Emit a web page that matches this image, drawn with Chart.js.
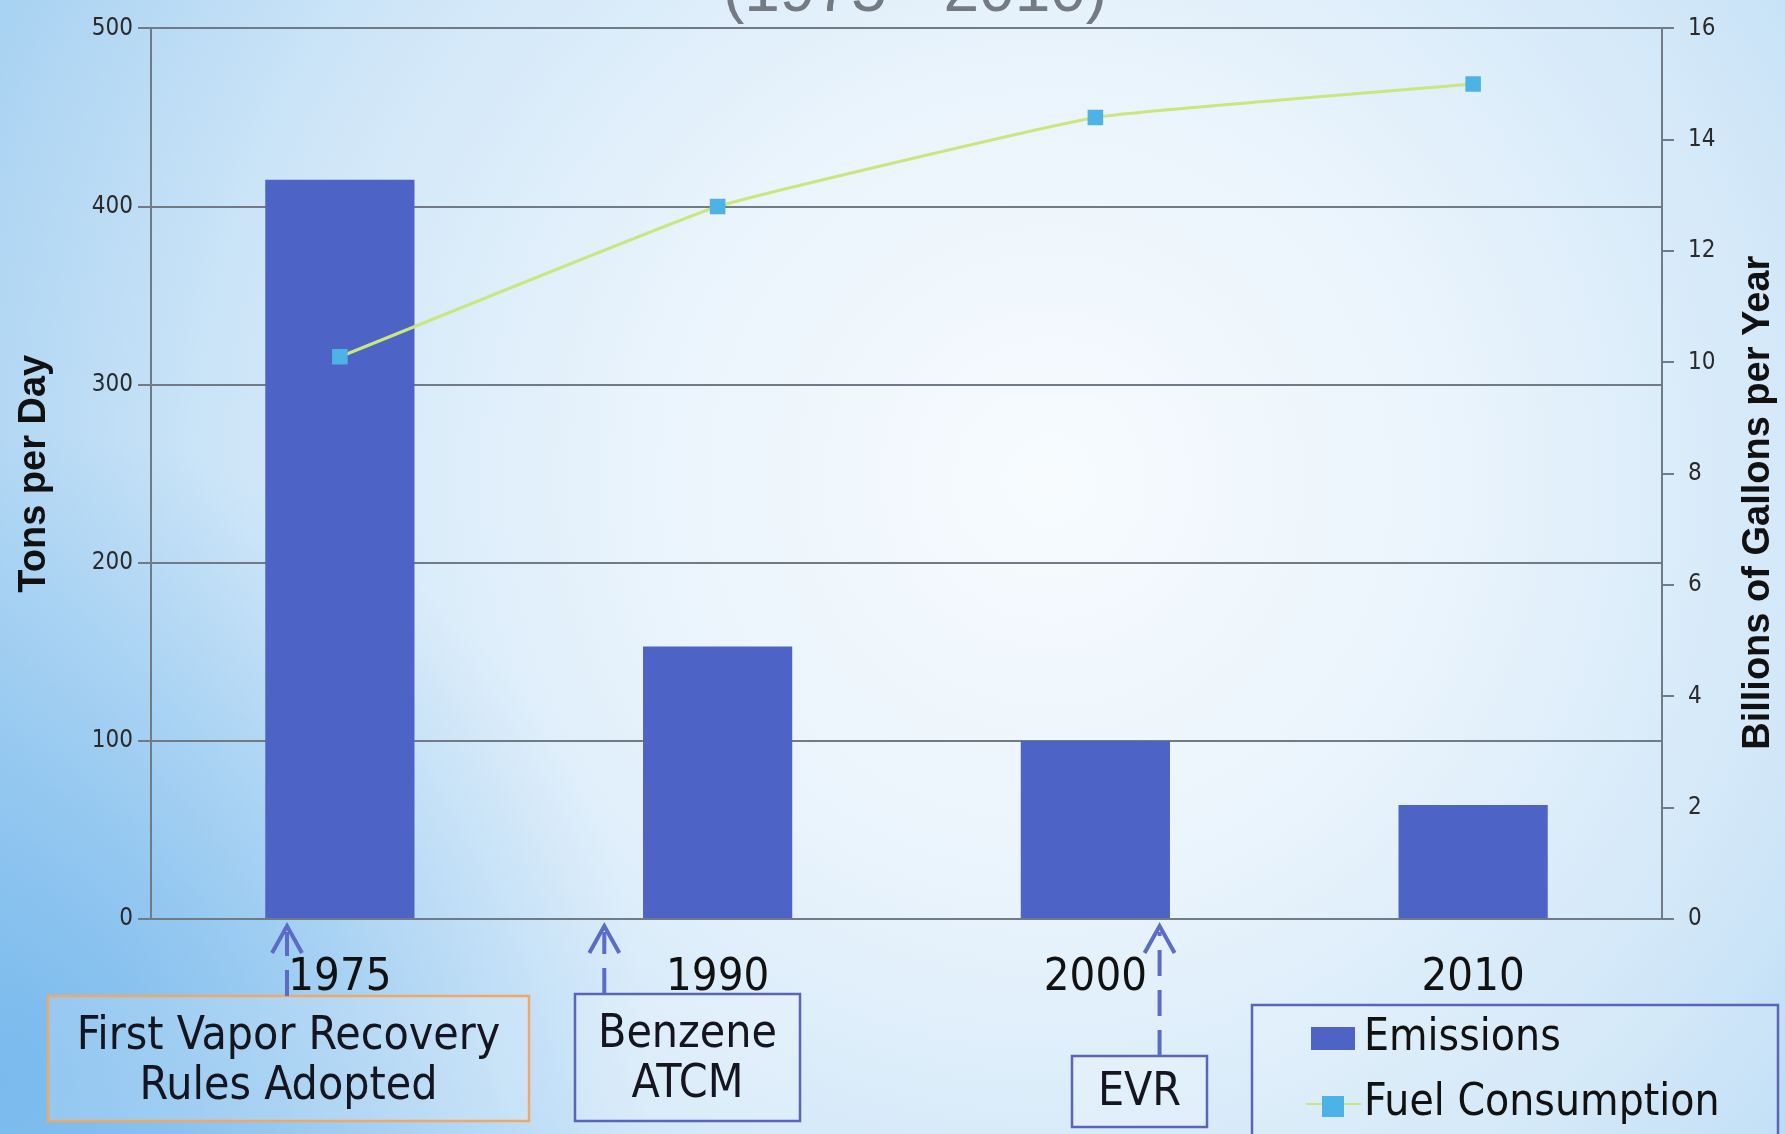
<!DOCTYPE html>
<html>
<head>
<meta charset="utf-8">
<script src="https://cdn.jsdelivr.net/npm/chart.js@4.4.1/dist/chart.umd.min.js"></script>
<style>
    html, body { margin: 0; padding: 0; background: #d6ebfa; }
    #wrap { width: 1785px; height: 1134px; }
</style>
</head>
<body>
<div id="wrap"><canvas id="emissionsChart" width="1785" height="1134"></canvas></div>
<script>
const years = ['1975', '1990', '2000', '2010'];
const emissions = [415, 153, 100, 64];               // tons per day
const fuelConsumption = [10.1, 12.8, 14.4, 15.0];    // billions of gallons per year
const tonsTicks = [0, 100, 200, 300, 400, 500];
const gallonTicks = [0, 2, 4, 6, 8, 10, 12, 14, 16];

// milestones under the axis, anchored on the year axis (in category steps)
const milestoneLabels = [['First Vapor Recovery', 'Rules Adopted'], ['Benzene', 'ATCM'], ['EVR']];
const milestoneAt = [-0.14, 0.7, 2.17];

const NARROW = "'Liberation Sans Narrow', 'DejaVu Sans Condensed', sans-serif";
const AXIS_GREY = '#717b86';
const BAR_BLUE = '#4e63c6';
const LINE_GREEN = '#c9e77d';
const MARKER_BLUE = '#4db3e6';

const slideBackground = {
    id: 'slideBackground',
    beforeDraw(chart) {
        const { ctx, width, height } = chart;
        ctx.save();
        const r = ctx.createRadialGradient(1050, 480, 0, 1050, 480, 1150);
        r.addColorStop(0, '#f7fbfe');
        r.addColorStop(0.35, '#eaf4fc');
        r.addColorStop(0.7, '#cfe6f8');
        r.addColorStop(1, '#a8d2f2');
        ctx.fillStyle = r;
        ctx.fillRect(0, 0, width, height);
        const b = ctx.createRadialGradient(0, 1080, 0, 0, 1080, 650);
        b.addColorStop(0, 'rgba(110,180,236,0.8)');
        b.addColorStop(1, 'rgba(110,180,236,0)');
        ctx.fillStyle = b;
        ctx.fillRect(0, 0, width, height);

        // bottom of the slide title, cut off by the top edge
        ctx.fillStyle = '#737a82';
        ctx.font = "64px 'Liberation Sans', sans-serif";
        ctx.textAlign = 'center';
        ctx.textBaseline = 'alphabetic';
        ctx.fillText('(1975 - 2010)', 915, 11);
        ctx.restore();
    }
};

const extras = {
    id: 'extras',
    afterDraw(chart) {
        const { ctx, chartArea } = chart;
        const x = chart.scales.x;
        ctx.save();

        // right axis title, reading bottom to top
        ctx.fillStyle = '#111';
        ctx.font = "bold 38px 'Liberation Sans', sans-serif";
        ctx.textAlign = 'center';
        ctx.textBaseline = 'middle';
        ctx.translate(1759, (chartArea.top + chartArea.bottom) / 2 + 29);
        ctx.rotate(-Math.PI / 2);
        ctx.fillText('Billions of Gallons per Year', 0, 0);
        ctx.setTransform(1, 0, 0, 1, 0, 0);

        // milestone boxes and dashed arrows
        const boxes = [
            { x0: 48, y0: 996, x1: 529, y1: 1121, border: '#f0a868' },
            { x0: 575, y0: 994, x1: 800, y1: 1121, border: '#5a64b8' },
            { x0: 1072, y0: 1056, x1: 1207, y1: 1127, border: '#5a64b8' }
        ];
        milestoneLabels.forEach((lines, i) => {
            const bx = boxes[i];
            const ax = x.getPixelForValue(milestoneAt[i]);
            ctx.fillStyle = 'rgba(255,255,255,0.18)';
            ctx.fillRect(bx.x0, bx.y0, bx.x1 - bx.x0, bx.y1 - bx.y0);
            ctx.strokeStyle = bx.border;
            ctx.lineWidth = 2.5;
            ctx.strokeRect(bx.x0, bx.y0, bx.x1 - bx.x0, bx.y1 - bx.y0);

            ctx.fillStyle = '#151520';
            ctx.font = '46px ' + NARROW;
            ctx.textAlign = 'center';
            ctx.textBaseline = 'middle';
            const cx = (bx.x0 + bx.x1) / 2;
            if (lines.length === 2) {
                ctx.fillText(lines[0], cx, bx.y0 + 41);
                ctx.fillText(lines[1], cx, bx.y0 + 91);
            } else {
                ctx.fillText(lines[0], cx, (bx.y0 + bx.y1) / 2 + 2);
            }

            // arrow
            const tip = chartArea.bottom + 7;
            ctx.strokeStyle = '#5a6bc8';
            ctx.lineWidth = 4;
            ctx.setLineDash([26, 14]);
            ctx.beginPath();
            ctx.moveTo(ax, bx.y0);
            ctx.lineTo(ax, tip + 6);
            ctx.stroke();
            ctx.setLineDash([]);
            ctx.beginPath();
            ctx.moveTo(ax - 15, tip + 27);
            ctx.lineTo(ax, tip);
            ctx.lineTo(ax + 15, tip + 27);
            ctx.stroke();
        });

        // legend box
        const ds = chart.data.datasets;
        ctx.strokeStyle = '#5a64b8';
        ctx.lineWidth = 2.5;
        ctx.fillStyle = 'rgba(255,255,255,0.12)';
        ctx.fillRect(1252, 1005, 526, 140);
        ctx.strokeRect(1252, 1005, 526, 140);

        ctx.fillStyle = ds[0].backgroundColor;
        ctx.fillRect(1311, 1027, 44, 23);
        ctx.strokeStyle = ds[1].borderColor;
        ctx.lineWidth = 2;
        ctx.beginPath();
        ctx.moveTo(1306, 1104);
        ctx.lineTo(1361, 1104);
        ctx.stroke();
        ctx.fillStyle = ds[1].pointBackgroundColor;
        ctx.fillRect(1322, 1096, 22, 21);

        ctx.fillStyle = '#111';
        ctx.font = '44px ' + NARROW;
        ctx.textAlign = 'left';
        ctx.textBaseline = 'middle';
        ctx.fillText(ds[0].label, 1364, 1039);
        ctx.fillText(ds[1].label, 1364, 1104);
        ctx.restore();
    }
};

new Chart(document.getElementById('emissionsChart').getContext('2d'), {
    data: {
        labels: years,
        datasets: [
            {
                type: 'bar',
                label: 'Emissions',
                data: emissions,
                yAxisID: 'y',
                backgroundColor: BAR_BLUE,
                borderWidth: 0,
                barPercentage: 0.395,
                categoryPercentage: 1,
                order: 1
            },
            {
                type: 'line',
                label: 'Fuel Consumption',
                data: fuelConsumption,
                yAxisID: 'y1',
                borderColor: LINE_GREEN,
                borderWidth: 3,
                tension: 0.1,
                pointStyle: 'rect',
                pointRadius: 11,
                pointBackgroundColor: MARKER_BLUE,
                pointBorderColor: MARKER_BLUE,
                pointBorderWidth: 0,
                order: 0
            }
        ]
    },
    options: {
        responsive: false,
        animation: false,
        layout: { padding: { left: 12, top: 25, right: 0, bottom: 0 } },
        plugins: {
            legend: { display: false },
            tooltip: { enabled: false }
        },
        scales: {
            x: {
                offset: true,
                grid: { display: false },
                border: { display: false },
                ticks: {
                    color: '#111',
                    padding: 24,
                    font: { family: NARROW, size: 45 }
                },
                afterFit(scale) { scale.height = 215; }
            },
            y: {
                position: 'left',
                min: 0,
                max: 500,
                afterBuildTicks(scale) { scale.ticks = tonsTicks.map(v => ({ value: v })); },
                grid: { color: AXIS_GREY, lineWidth: 2, tickLength: 13 },
                border: { color: AXIS_GREY, width: 2 },
                ticks: {
                    color: '#2a2a2a',
                    padding: 5,
                    font: { family: NARROW, size: 24 }
                },
                title: {
                    display: true,
                    text: 'Tons per Day',
                    color: '#111',
                    padding: 0,
                    font: { family: "'Liberation Sans', sans-serif", size: 38, weight: 'bold' }
                },
                afterFit(scale) { scale.width = 139; }
            },
            y1: {
                position: 'right',
                min: 0,
                max: 16,
                afterBuildTicks(scale) { scale.ticks = gallonTicks.map(v => ({ value: v })); },
                grid: { drawOnChartArea: false, color: AXIS_GREY, lineWidth: 2, tickLength: 12 },
                border: { color: AXIS_GREY, width: 2 },
                ticks: {
                    color: '#2a2a2a',
                    padding: 14,
                    font: { family: NARROW, size: 24 }
                },
                afterFit(scale) { scale.width = 123; }
            }
        }
    },
    plugins: [slideBackground, extras]
});
</script>
</body>
</html>
